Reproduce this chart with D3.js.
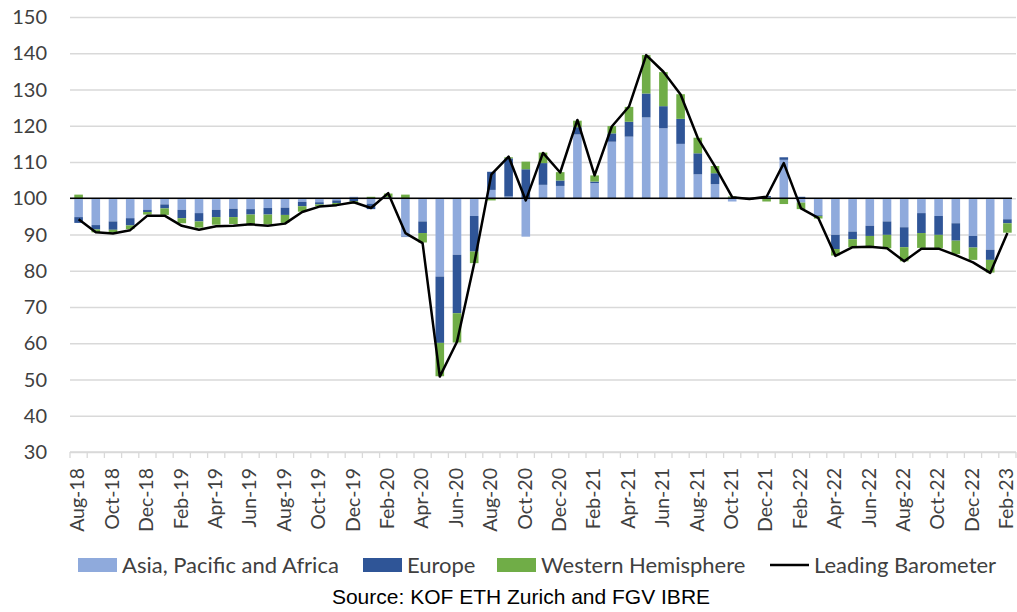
<!DOCTYPE html>
<html>
<head>
<meta charset="utf-8">
<script src="https://cdn.jsdelivr.net/npm/d3@7"></script>
<style>
	body { margin: 0; background: #fff; }
	svg { display: block; }
	.labels { font-family: Lato, "Open Sans", sans-serif; fill: #404040; }
</style>
</head>
<body>
<svg id="chart"></svg>
<script>
// months on the x axis
const months = [
	'Aug-18','Sep-18','Oct-18','Nov-18','Dec-18',
	'Jan-19','Feb-19','Mar-19','Apr-19','May-19','Jun-19','Jul-19','Aug-19','Sep-19','Oct-19','Nov-19','Dec-19',
	'Jan-20','Feb-20','Mar-20','Apr-20','May-20','Jun-20','Jul-20','Aug-20','Sep-20','Oct-20','Nov-20','Dec-20',
	'Jan-21','Feb-21','Mar-21','Apr-21','May-21','Jun-21','Jul-21','Aug-21','Sep-21','Oct-21','Nov-21','Dec-21',
	'Jan-22','Feb-22','Mar-22','Apr-22','May-22','Jun-22','Jul-22','Aug-22','Sep-22','Oct-22','Nov-22','Dec-22',
	'Jan-23','Feb-23'
];

// contributions (points away from 100)
const asia = [
	-5.2, -7.4, -6.4, -5.5, -3.2,
	-1.7, -3.2, -4.1, -3.2, -2.9, -3.0, -2.7, -2.6, -1.0, -1.1, -0.6, 0.4,
	-1.5, 0.2, -10.6, -6.4, -21.6, -15.6, -4.9, 2.3, 0.5, -10.6, 3.7, 3.4,
	17.6, 4.2, 15.6, 17.0, 22.3, 19.3, 15.0, 6.6, 3.9, -0.9, -0.3, 0.3,
	10.6, -1.2, -4.7, -10.1, -9.2, -7.6, -6.4, -8.0, -4.1, -4.9, -6.9, -10.4,
	-14.2, -5.8
];
const europe = [
	-1.6, -1.2, -2.3, -2.0, -0.6,
	-1.1, -2.3, -2.3, -2.0, -2.3, -1.5, -1.8, -2.0, -1.2, -0.6, -0.7, -0.8,
	-1.5, 0.1, -0.1, -3.2, -18.3, -16.1, -9.8, 5.0, 10.5, 8.0, 6.0, 1.5,
	2.0, 0.4, 2.3, 4.1, 6.6, 6.1, 6.9, 5.8, 3.0, 0.2, -0.1, 0.3,
	0.7, 0.4, -0.2, -3.9, -2.1, -2.8, -3.7, -5.5, -5.5, -5.2, -4.8, -3.2,
	-2.8, -1.1
];
const west = [
	1.0, -0.8, -0.8, -1.0, -0.7,
	-1.8, -1.4, -1.7, -2.1, -1.9, -2.7, -2.7, -2.2, -1.5, -0.5, -0.6, -0.7,
	0.4, 1.0, 1.0, -2.6, -9.2, -8.1, -3.2, -0.6, 0.3, 2.1, 2.9, 2.3,
	1.8, 1.7, 2.0, 4.1, 10.6, 9.4, 6.8, 4.3, 2.0, 0.3, 0.0, -0.9,
	-1.6, -1.8, -0.7, -1.8, -2.2, -2.9, -3.7, -3.9, -4.1, -3.7, -3.7, -3.4,
	-3.5, -2.6
];
const barometer = [
	94.2, 90.6, 90.3, 91.2, 95.2,
	95.2, 92.4, 91.3, 92.3, 92.4, 92.8, 92.4, 93.0, 96.2, 97.7, 98.1, 98.9,
	97.3, 101.4, 90.4, 87.6, 50.8, 60.4, 82.0, 106.6, 111.5, 99.4, 112.5, 107.1,
	121.6, 106.3, 119.8, 125.3, 139.5, 134.9, 128.6, 116.6, 108.8, 100.3, 99.8, 100.4,
	109.7, 97.2, 94.6, 84.1, 86.5, 86.6, 86.2, 82.6, 86.1, 86.1, 84.3, 82.3,
	79.4, 90.4
];

const seriesNames = ['Asia, Pacific and Africa', 'Europe', 'Western Hemisphere'];
const seriesKeys = ['asia', 'europe', 'west'];
const colors = ['#8faadc', '#2f5597', '#70ad47'];
const yTicks = [30, 40, 50, 60, 70, 80, 90, 100, 110, 120, 130, 140, 150];

let w = 1017, h = 612;
let leftMargin = 70, rightMargin = 1;
let plotTop = 17, plotBottom = 452;

let chart = d3.select('#chart')
	.attr('width', w)
	.attr('height', h);

// build rows for the stack
let rows = months.map((m, i) => ({ month: m, asia: asia[i], europe: europe[i], west: west[i] }));

let stacked = d3.stack()
	.keys(seriesKeys)
	.offset(d3.stackOffsetDiverging)(rows);

let xScale = d3.scaleBand()
	.domain(months)
	.range([leftMargin, w - rightMargin])
	.paddingInner(0.5)
	.paddingOuter(0.25);

let yScale = d3.scaleLinear()
	.domain([30, 150])
	.range([plotBottom, plotTop]);

// gridlines
chart.append('g')
	.attr('class', 'y-grid')
	.attr('transform', `translate(${leftMargin},0)`)
	.call(d3.axisLeft(yScale).tickValues(yTicks).tickSize(-(w - rightMargin - leftMargin)).tickFormat(''))
	.call(g => g.select('.domain').remove())
	.call(g => g.selectAll('line').attr('stroke', '#d9d9d9').attr('stroke-width', 1.3));

// y labels
chart.append('g')
	.selectAll('text')
	.data(yTicks)
	.join('text')
	.attr('class', 'labels')
	.attr('x', 47)
	.attr('y', d => yScale(d))
	.attr('dy', '0.35em')
	.style('text-anchor', 'end')
	.style('font-size', '20px')
	.text(d => d);

// bars, drawn from the 100 line
chart.append('g')
	.selectAll('g')
	.data(stacked)
	.join('g')
	.attr('fill', (d, i) => colors[i])
	.selectAll('rect')
	.data(d => d)
	.join('rect')
	.attr('x', d => xScale(d.data.month))
	.attr('width', xScale.bandwidth())
	.attr('y', d => yScale(100 + Math.max(d[0], d[1])))
	.attr('height', d => Math.abs(yScale(100 + d[0]) - yScale(100 + d[1])));

// 100 line
chart.append('line')
	.attr('x1', leftMargin)
	.attr('x2', w - rightMargin - 4)
	.attr('y1', yScale(100))
	.attr('y2', yScale(100))
	.attr('stroke', '#000')
	.attr('stroke-width', 1.5);

// x axis line with ticks between months
let step = xScale.step();
let xAxisGroup = chart.append('g').attr('class', 'axis-bottom');
xAxisGroup.append('line')
	.attr('x1', leftMargin).attr('x2', w - rightMargin)
	.attr('y1', plotBottom).attr('y2', plotBottom)
	.attr('stroke', '#d9d9d9').attr('stroke-width', 1.3);
xAxisGroup.selectAll('.tick-mark')
	.data(months.concat(['end']))
	.join('line')
	.attr('class', 'tick-mark')
	.attr('x1', (d, i) => leftMargin + i * step)
	.attr('x2', (d, i) => leftMargin + i * step)
	.attr('y1', plotBottom).attr('y2', plotBottom + 6)
	.attr('stroke', '#d9d9d9').attr('stroke-width', 1.3);

// x labels, every other month
xAxisGroup.selectAll('.xlab')
	.data(months.filter((m, i) => i % 2 === 0))
	.join('text')
	.attr('class', 'labels xlab')
	.attr('transform', d => `translate(${xScale(d) + xScale.bandwidth() / 2},468) rotate(-90)`)
	.attr('dy', '0.3em')
	.style('text-anchor', 'end')
	.style('font-size', '19.5px')
	.text(d => d);

// barometer line
let line = d3.line()
	.x((d, i) => xScale(months[i]) + xScale.bandwidth() / 2)
	.y(d => yScale(d));

chart.append('path')
	.datum(barometer)
	.attr('d', line)
	.attr('fill', 'none')
	.attr('stroke', '#000')
	.attr('stroke-width', 2.5)
	.attr('stroke-linejoin', 'round');

// LEGEND
let legendItems = [
	{ name: seriesNames[0], color: colors[0], x: 78 },
	{ name: seriesNames[1], color: colors[1], x: 363 },
	{ name: seriesNames[2], color: colors[2], x: 497 },
	{ name: 'Leading Barometer', color: '#000', x: 770, line: true }
];
let legend = chart.append('g');
legendItems.forEach(item => {
	if (item.line) {
		legend.append('line')
			.attr('x1', item.x).attr('x2', item.x + 39)
			.attr('y1', 565).attr('y2', 565)
			.attr('stroke', item.color).attr('stroke-width', 2.5);
	} else {
		legend.append('rect')
			.attr('x', item.x).attr('y', 558)
			.attr('width', 39).attr('height', 14)
			.attr('fill', item.color);
	}
	legend.append('text')
		.attr('class', 'labels')
		.attr('x', item.x + 44)
		.attr('y', 565)
		.attr('dy', '0.35em')
		.style('font-size', '22px')
		.text(item.name);
});

// source
chart.append('text')
	.attr('x', 521)
	.attr('y', 597)
	.attr('dy', '0.35em')
	.style('text-anchor', 'middle')
	.style('font-family', '"Liberation Sans", Arial, sans-serif')
	.style('font-size', '21px')
	.style('fill', '#000')
	.text('Source: KOF ETH Zurich and FGV IBRE');
</script>
</body>
</html>
